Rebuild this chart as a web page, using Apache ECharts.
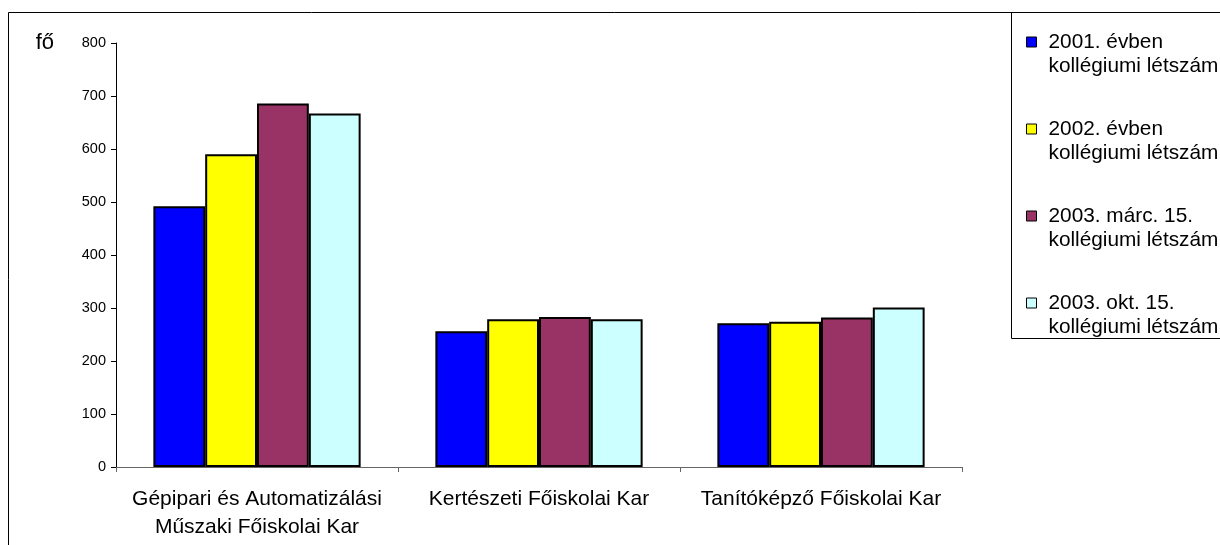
<!DOCTYPE html>
<html>
<head>
<meta charset="utf-8">
<script src="https://cdn.jsdelivr.net/npm/echarts@6/dist/echarts.min.js"></script>
<style>html,body{margin:0;padding:0;background:#fff}#c{width:1220px;height:545px}</style>
</head>
<body>
<div id="c"></div>
<script>
const categories = ['Gépipari és Automatizálási\nMűszaki Főiskolai Kar', 'Kertészeti Főiskolai Kar', 'Tanítóképző Főiskolai Kar'];
const seriesNames = ['2001. évben\nkollégiumi létszám', '2002. évben\nkollégiumi létszám', '2003. márc. 15.\nkollégiumi létszám', '2003. okt. 15.\nkollégiumi létszám'];
const s2001 = [492, 256, 271];
const s2002 = [590, 279, 274];
const s2003marc = [686, 283, 282];
const s2003okt = [667, 279, 301];
const yTicks = [0, 100, 200, 300, 400, 500, 600, 700, 800];
const colors = ['#0000FF', '#FFFF00', '#993366', '#CCFFFF'];
const values = [s2001, s2002, s2003marc, s2003okt];
const FONT = '"Liberation Sans", Arial, sans-serif';

const chart = echarts.init(document.getElementById('c'), null, {renderer: 'canvas'});
chart.setOption({
  animation: false,
  backgroundColor: '#fff',
  textStyle: {fontFamily: FONT, color: '#000'},
  grid: {left: 116, right: 258, top: 43, bottom: 78, containLabel: false},
  legend: {
    orient: 'vertical',
    left: 1026,
    top: 6,
    padding: 0,
    itemWidth: 10,
    itemHeight: 10,
    itemGap: 15,
    icon: 'rect',
    itemStyle: {borderColor: '#000', borderWidth: 1},
    formatter: function (n) { return ' \n' + n; },
    textStyle: {fontFamily: FONT, fontSize: 20.8, color: '#000', lineHeight: 24, padding: [0, 0, 0, 7]},
    data: seriesNames
  },
  xAxis: {
    type: 'category',
    data: categories,
    axisLine: {lineStyle: {color: '#666', width: 1}},
    axisTick: {show: true, length: 5, lineStyle: {color: '#666'}},
    axisLabel: {fontFamily: FONT, fontSize: 21, lineHeight: 28, color: '#000', margin: 18, interval: 0},
    splitLine: {show: false}
  },
  yAxis: {
    type: 'value',
    min: 0, max: 800, interval: 100,
    name: 'fő',
    nameLocation: 'end',
    nameGap: 0,
    nameTextStyle: {fontFamily: FONT, fontSize: 22, color: '#000', align: 'right', verticalAlign: 'middle', padding: [0, 62, 0, 0]},
    axisLine: {show: true, lineStyle: {color: '#000', width: 1}},
    axisTick: {show: true, length: 5, lineStyle: {color: '#000'}},
    axisLabel: {fontFamily: FONT, fontSize: 14.5, color: '#000', margin: 10,
      formatter: function (v) { return yTicks.indexOf(v) >= 0 ? String(v) : ''; }},
    splitLine: {show: false}
  },
  series: seriesNames.map(function (n, i) {
    return {
      name: n,
      type: 'bar',
      data: values[i],
      barGap: '0%',
      barCategoryGap: '26.5%',
      itemStyle: {color: colors[i], borderColor: '#000', borderWidth: 2}
    };
  }),
  graphic: [
    {type: 'rect', shape: {x: 8.5, y: 12.5, width: 1300, height: 700}, style: {fill: 'none', stroke: '#000', lineWidth: 1}, silent: true, z: -1},
    {type: 'rect', shape: {x: 1011.5, y: 12.5, width: 300, height: 326}, style: {fill: 'none', stroke: '#000', lineWidth: 1}, silent: true, z: -1}
  ]
});
</script>
</body>
</html>
